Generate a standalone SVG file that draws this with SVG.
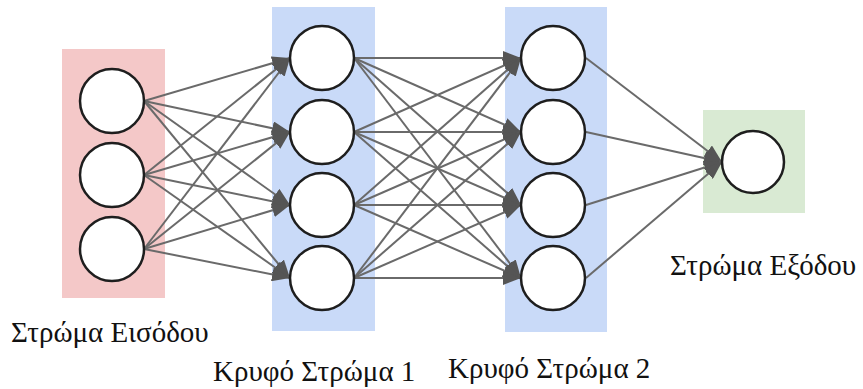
<svg xmlns="http://www.w3.org/2000/svg" width="863" height="389" viewBox="0 0 863 389">
  <style>
    .node { fill: #ffffff; stroke: #1e1e1e; stroke-width: 2.5; }
    .edge { stroke: #6a6a6a; stroke-width: 2; fill: none; marker-end: url(#arrow); }
    .label { font-family: "Liberation Serif", "Times New Roman", "DejaVu Serif", serif; font-size: 29px; fill: #111111; }
  </style>
  <defs>
    <marker id="arrow" markerUnits="userSpaceOnUse" markerWidth="18" markerHeight="14" refX="18" refY="7" orient="auto">
      <path d="M0,0 L18,7 L0,14 z" fill="#555555"/>
    </marker>
  </defs>
  <rect width="863" height="389" fill="#ffffff"/>

  <!-- layer backgrounds -->
  <rect x="62" y="49" width="103" height="249" fill="#f4c8c8"/>
  <rect x="272" y="7" width="103" height="324" fill="#c9daf8"/>
  <rect x="505" y="7" width="102" height="325" fill="#c9daf8"/>
  <rect x="703" y="110" width="102" height="103" fill="#d9ead3"/>

  <!-- connectors -->
  <g id="connectors">
    <!-- input -> hidden 1 -->
    <line class="edge" x1="144" y1="101" x2="290" y2="58"/>
    <line class="edge" x1="144" y1="101" x2="290" y2="132"/>
    <line class="edge" x1="144" y1="101" x2="290" y2="205"/>
    <line class="edge" x1="144" y1="101" x2="290" y2="278"/>
    <line class="edge" x1="144" y1="175" x2="290" y2="58"/>
    <line class="edge" x1="144" y1="175" x2="290" y2="132"/>
    <line class="edge" x1="144" y1="175" x2="290" y2="205"/>
    <line class="edge" x1="144" y1="175" x2="290" y2="278"/>
    <line class="edge" x1="144" y1="249" x2="290" y2="58"/>
    <line class="edge" x1="144" y1="249" x2="290" y2="132"/>
    <line class="edge" x1="144" y1="249" x2="290" y2="205"/>
    <line class="edge" x1="144" y1="249" x2="290" y2="278"/>
    <!-- hidden 1 -> hidden 2 -->
    <line class="edge" x1="354" y1="58" x2="521" y2="58"/>
    <line class="edge" x1="354" y1="58" x2="521" y2="132"/>
    <line class="edge" x1="354" y1="58" x2="521" y2="205"/>
    <line class="edge" x1="354" y1="58" x2="521" y2="278"/>
    <line class="edge" x1="354" y1="132" x2="521" y2="58"/>
    <line class="edge" x1="354" y1="132" x2="521" y2="132"/>
    <line class="edge" x1="354" y1="132" x2="521" y2="205"/>
    <line class="edge" x1="354" y1="132" x2="521" y2="278"/>
    <line class="edge" x1="354" y1="205" x2="521" y2="58"/>
    <line class="edge" x1="354" y1="205" x2="521" y2="132"/>
    <line class="edge" x1="354" y1="205" x2="521" y2="205"/>
    <line class="edge" x1="354" y1="205" x2="521" y2="278"/>
    <line class="edge" x1="354" y1="278" x2="521" y2="58"/>
    <line class="edge" x1="354" y1="278" x2="521" y2="132"/>
    <line class="edge" x1="354" y1="278" x2="521" y2="205"/>
    <line class="edge" x1="354" y1="278" x2="521" y2="278"/>
    <!-- hidden 2 -> output -->
    <line class="edge" x1="586" y1="58" x2="722" y2="162"/>
    <line class="edge" x1="586" y1="132" x2="722" y2="162"/>
    <line class="edge" x1="586" y1="205" x2="722" y2="162"/>
    <line class="edge" x1="586" y1="278" x2="722" y2="162"/>
  </g>

  <!-- input layer -->
  <g id="in1"><circle class="node" cx="112" cy="101" r="32"/></g>
  <g id="in2"><circle class="node" cx="112" cy="175" r="32"/></g>
  <g id="in3"><circle class="node" cx="112" cy="249" r="32"/></g>

  <!-- hidden layer 1 -->
  <g id="h1a"><circle class="node" cx="322" cy="58" r="32"/></g>
  <g id="h1b"><circle class="node" cx="322" cy="132" r="32"/></g>
  <g id="h1c"><circle class="node" cx="322" cy="205" r="32"/></g>
  <g id="h1d"><circle class="node" cx="322" cy="278" r="32"/></g>

  <!-- hidden layer 2 -->
  <g id="h2a"><circle class="node" cx="553" cy="58" r="32"/></g>
  <g id="h2b"><circle class="node" cx="553" cy="132" r="32"/></g>
  <g id="h2c"><circle class="node" cx="553" cy="205" r="32"/></g>
  <g id="h2d"><circle class="node" cx="553" cy="278" r="32"/></g>

  <!-- output layer -->
  <g id="out1"><circle class="node" cx="753" cy="162" r="31"/></g>

  <!-- layer captions -->
  <text class="label" x="11" y="342">Στρώμα Εισόδου</text>
  <text class="label" x="213" y="381">Κρυφό Στρώμα 1</text>
  <text class="label" x="448" y="378">Κρυφό Στρώμα 2</text>
  <text class="label" x="670" y="275">Στρώμα Εξόδου</text>
</svg>
